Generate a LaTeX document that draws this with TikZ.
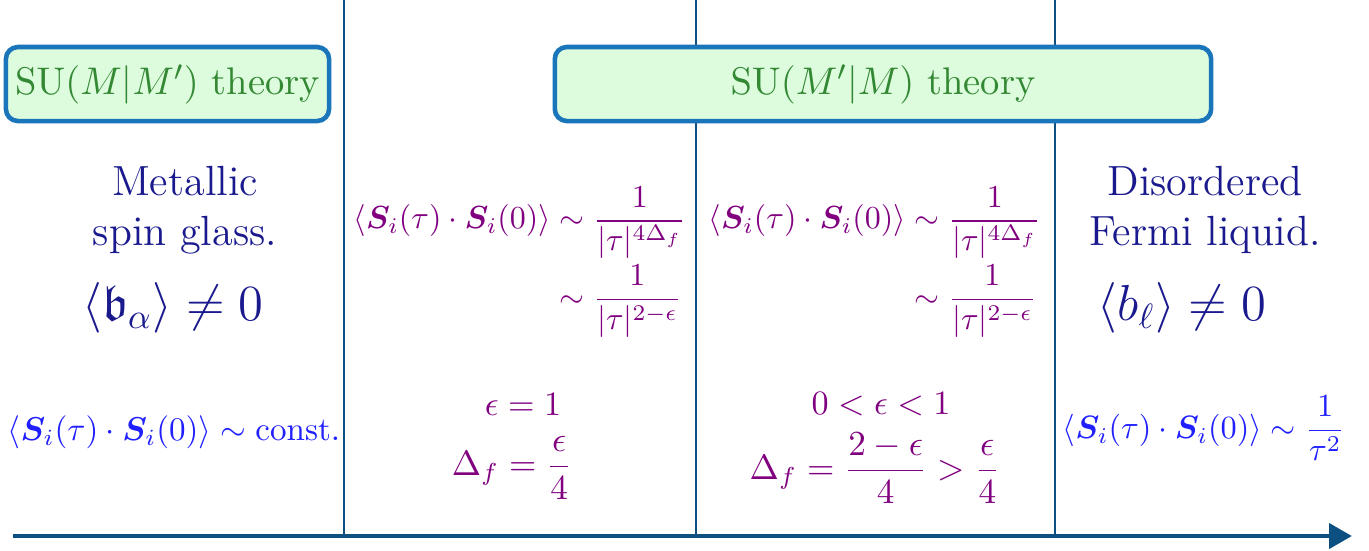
\documentclass[tikz,border=0pt]{standalone}
\usepackage{amsmath,amssymb}
\usepackage{bm}
\usepackage{graphicx}
\usepackage{tikz}
\usetikzlibrary{arrows.meta}

\begin{document}
\begin{tikzpicture}[x=0.01cm,y=-0.01cm,
  teoria/.style={draw=colBordo, fill=colRiemp, line width=1.3pt, rounded corners=0.12cm,
    text=colTeoria, font=\fontsize{10.95}{13.6}\selectfont, inner sep=0pt},
  fase/.style={text=colFase, align=center, font=\fontsize{12}{14.2}\selectfont},
  faseMath/.style={text=colFase, font=\fontsize{14.4}{17}\selectfont},
  corr/.style={text=colCorr, font=\fontsize{10}{12}\selectfont},
  blu/.style={text=colBlu, font=\fontsize{10}{12}\selectfont}]

% Colori
\definecolor{colBordo}{HTML}{1A75BB}
\definecolor{colRiemp}{HTML}{DDFCDD}
\definecolor{colTeoria}{HTML}{338833}
\definecolor{colAsse}{HTML}{0B5080}
\definecolor{colFase}{HTML}{1A1A8E}
\definecolor{colCorr}{HTML}{800080}
\definecolor{colBlu}{HTML}{1F1FFF}

\useasboundingbox (0,0) rectangle (1369,550);

% Linee verticali
\coordinate (suA) at (344,0);
\coordinate (giuA) at (344,536);
\coordinate (suB) at (696,0);
\coordinate (giuB) at (696,536);
\coordinate (suC) at (1055,0);
\coordinate (giuC) at (1055,536);
\draw[colAsse, line width=0.75pt] (suA) -- (giuA);
\draw[colAsse, line width=0.75pt] (suB) -- (giuB);
\draw[colAsse, line width=0.75pt] (suC) -- (giuC);

% Asse
\coordinate (inizio) at (13,536);
\coordinate (fine) at (1352,536);
\draw[colAsse, line width=1.4pt, -{Triangle[length=6.5pt,width=7pt]}] (inizio) -- (fine);

% Teorie
\node[teoria, minimum width=3.23cm, minimum height=0.74cm] (teoriaA) at (167.5,84)
  {$\mathrm{SU}(M|M')$ theory};
\node[teoria, minimum width=6.56cm, minimum height=0.74cm] (teoriaB) at (883,84)
  {$\mathrm{SU}(M'|M)$ theory};

% Vetro di spin
\node[fase] (vetro) at (185,210) {Metallic\\spin glass.};
\node[faseMath] (bAlfa) at (173,308) {$\langle\mathfrak{b}_\alpha\rangle\neq0$};
\node[blu] (costante) at (174,432)
  {\scalebox{0.94}{$\langle\bm{S}_i(\tau)\cdot\bm{S}_i(0)\rangle\sim\text{const.}$}};

% Regione epsilon = 1
\node[corr] (corrA) at (520,262) {\scalebox{0.91}{$\begin{aligned}
  \langle\bm{S}_i(\tau)\cdot\bm{S}_i(0)\rangle &\sim\dfrac{1}{|\tau|^{4\Delta_f}}\\[-2pt]
  &\sim\dfrac{1}{|\tau|^{2-\epsilon}}\end{aligned}$}};
\node[corr] (epsA) at (523,404) {\scalebox{0.97}{$\epsilon=1$}};
\node[corr] (deltaA) at (512,468) {$\Delta_f=\dfrac{\epsilon}{4}$};

% Regione 0 < epsilon < 1
\node[corr] (corrB) at (875,262) {\scalebox{0.91}{$\begin{aligned}
  \langle\bm{S}_i(\tau)\cdot\bm{S}_i(0)\rangle &\sim\dfrac{1}{|\tau|^{4\Delta_f}}\\[-2pt]
  &\sim\dfrac{1}{|\tau|^{2-\epsilon}}\end{aligned}$}};
\node[corr] (epsB) at (881,404) {\scalebox{0.97}{$0<\epsilon<1$}};
\node[corr] (deltaB) at (875,468) {$\Delta_f=\dfrac{2-\epsilon}{4}>\dfrac{\epsilon}{4}$};

% Liquido di Fermi
\node[fase] (liquido) at (1205,210) {Disordered\\Fermi liquid.};
\node[faseMath] (bElle) at (1182,308) {$\langle b_\ell\rangle\neq0$};
\node[blu] (fermi) at (1204,428)
  {\scalebox{0.92}{$\langle\bm{S}_i(\tau)\cdot\bm{S}_i(0)\rangle\sim\dfrac{1}{\tau^2}$}};
\end{tikzpicture}
\end{document}
